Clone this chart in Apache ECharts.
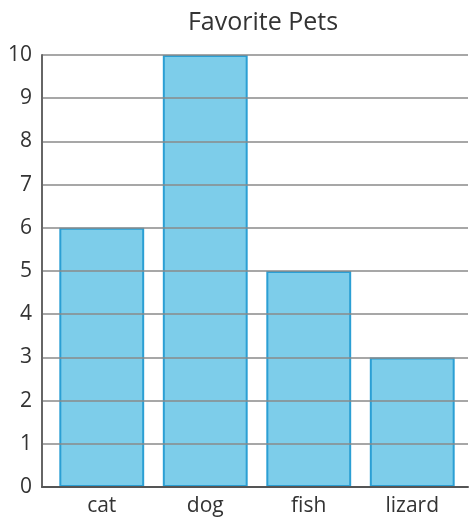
<!DOCTYPE html>
<html>
<head>
<meta charset="utf-8"/>
<title>Favorite Pets</title>
<script src="https://cdn.jsdelivr.net/npm/echarts@6/dist/echarts.min.js"></script>
<style>
	html, body { margin: 0; padding: 0; background: #fff; }
	#chart { width: 470px; height: 520px; }
</style>
</head>
<body>
<div id="chart"></div>
<script>
	var pets = ['cat', 'dog', 'fish', 'lizard'];
	var votes = [6, 10, 5, 3];
	var yMin = 0, yMax = 10, yStep = 1;

	var font = '"Open Sans", "Noto Sans", sans-serif';
	var chart = echarts.init(document.getElementById('chart'));
	chart.setOption({
		animation: false,
		backgroundColor: '#fff',
		title: {
			text: 'Favorite Pets',
			left: 258,
			top: 5,
			textAlign: 'center',
			textStyle: { fontFamily: font, fontSize: 25, fontWeight: 'normal', color: '#333' }
		},
		grid: [
			// bars
			{ left: 50, right: 6, top: 55, bottom: 33 },
			// frame and grid lines
			{ left: 42, right: 2, top: 55, bottom: 33 }
		],
		xAxis: [{
			gridIndex: 0,
			type: 'category',
			data: pets,
			axisLine: { show: false },
			axisTick: { show: false },
			axisLabel: { fontFamily: font, fontSize: 21, color: '#333', margin: 9 }
		}, {
			gridIndex: 1,
			type: 'value',
			min: 0, max: 1,
			z: 4,
			axisLine: { show: true, lineStyle: { color: '#555', width: 2 } },
			axisTick: { show: false },
			axisLabel: { show: false },
			splitLine: { show: false }
		}],
		yAxis: [{
			gridIndex: 0,
			type: 'value',
			min: yMin, max: yMax, interval: yStep,
			show: false
		}, {
			gridIndex: 1,
			type: 'value',
			min: yMin, max: yMax, interval: yStep,
			z: 4,
			axisLine: { show: true, lineStyle: { color: '#666', width: 2 } },
			axisTick: { show: false },
			axisLabel: { fontFamily: font, fontSize: 21, color: '#333', margin: 10 },
			splitLine: { show: true, lineStyle: { color: '#8a8a8a', width: 1.5 } }
		}],
		series: [{
			type: 'bar',
			xAxisIndex: 0,
			yAxisIndex: 0,
			data: votes,
			barCategoryGap: '18%',
			itemStyle: { color: '#7dcdea', borderColor: '#2b9fd4', borderWidth: 2 }
		}]
	});
</script>
</body>
</html>
